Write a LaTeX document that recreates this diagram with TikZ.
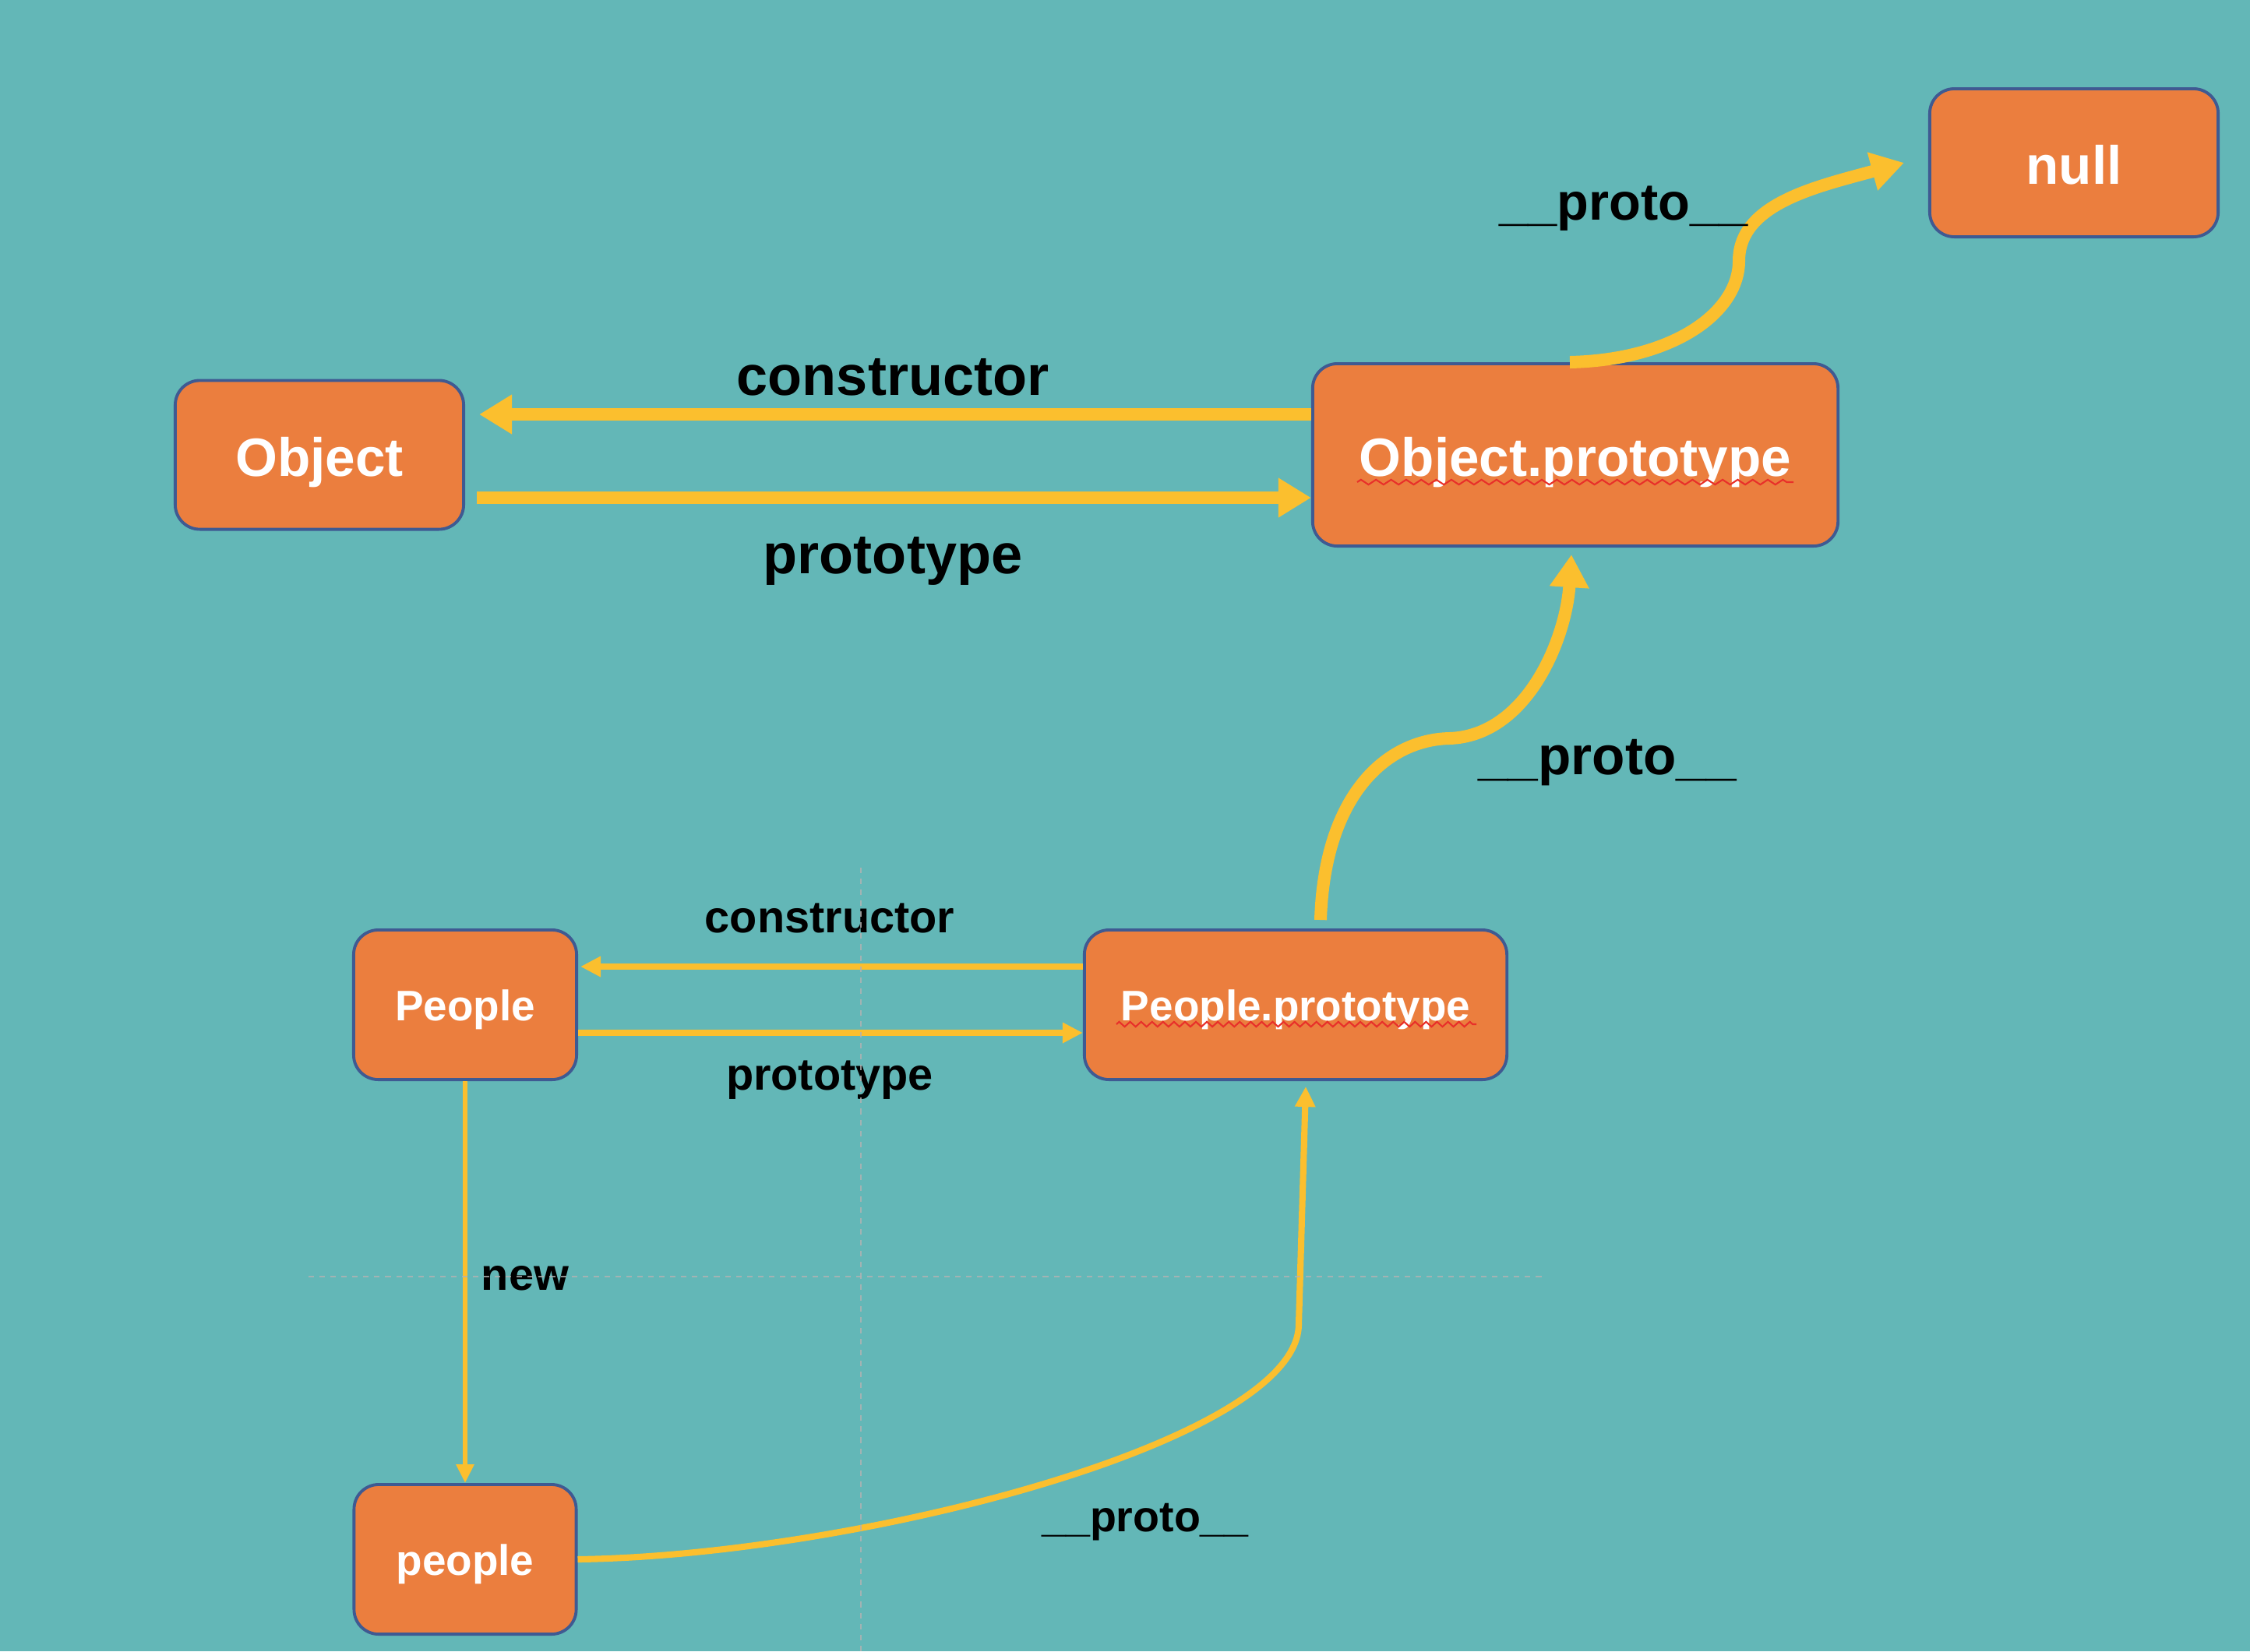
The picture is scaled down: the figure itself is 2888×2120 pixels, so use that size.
\documentclass[tikz,border=0pt]{standalone}
\usepackage{fontspec}
\setmainfont{Liberation Sans}
\usetikzlibrary{arrows.meta,calc,decorations.pathmorphing}
\definecolor{bg}{HTML}{63B7B7}
\definecolor{boxfill}{HTML}{EB7E3E}
\definecolor{boxline}{HTML}{3F5A92}
\definecolor{arr}{HTML}{FBBF2E}
\definecolor{squig}{HTML}{E8302A}
\begin{document}
\begin{tikzpicture}[x=0.01cm,y=-0.01cm,
  box/.style={draw=boxline, line width=1.1pt, fill=boxfill, rounded corners=9pt, inner sep=0pt, text=white, text depth=0pt},
  bigbox/.style={box, text height=15.4pt, font=\fontsize{19.7}{22}\selectfont\bfseries},
  smallbox/.style={box, text height=11.4pt, font=\fontsize{15.6}{18}\selectfont\bfseries},
  biglab/.style={font=\fontsize{20.5}{24}\selectfont\bfseries, text=black, inner sep=0pt},
  smalllab/.style={font=\fontsize{16.4}{19}\selectfont\bfseries, text=black, inner sep=0pt},
  thickarrow/.style={draw=arr, line width=4.55pt, -{Triangle[length=0.42cm,width=0.48cm]}},
  thinarrow/.style={draw=arr, line width=2.3pt, -{Triangle[length=0.26cm,width=0.25cm]}},
  newarrow/.style={draw=arr, line width=1.7pt, -{Triangle[length=0.24cm,width=0.22cm]}},
  squiggle/.style={draw=squig, line width=0.6pt, decorate, decoration={zigzag, segment length=#1, amplitude=0.9pt}},
  guide/.style={draw=gray!60, line width=0.7pt, dash pattern=on 2pt off 2pt, opacity=0.8}
]
\fill[bg] (0,0) rectangle (2888,2120);
\useasboundingbox (0,0) rectangle (2888,2120);

% boxes
\node[bigbox, minimum width=3.70cm, minimum height=1.91cm] (obj) at (410,584) {Object};
\node[bigbox, minimum width=6.74cm, minimum height=2.34cm] (op) at (2022,584) {Object.prototype};
\node[bigbox, minimum width=3.70cm, minimum height=1.90cm] (null) at (2662,209) {null};
\node[smallbox, minimum width=2.86cm, minimum height=1.92cm] (P) at (597,1290) {People};
\node[smallbox, minimum width=5.42cm, minimum height=1.92cm] (pp) at (1663,1290) {People.prototype};
\node[smallbox, minimum width=2.85cm, minimum height=1.92cm] (p) at (597,2002) {people};

% spell-check squiggles
\draw[squiggle=5.5pt] ($(op.center)+(-280,35)$) -- ($(op.center)+(280,35)$);
\draw[squiggle=4pt] ($(pp.center)+(-230,25)$) -- ($(pp.center)+(232,25)$);

% top row arrows
\draw[thickarrow] ($(op.west)+(0,-52)$) -- ($(obj.east)+(18,-52)$);
\draw[thickarrow] ($(obj.east)+(15,55)$) -- ($(op.west)+(0,55)$);
\node[biglab] (lc1) at (1146,484) {constructor};
\node[biglab] (lp1) at (1146,720) {prototype};

% Object.prototype -> null
\draw[thickarrow] ($(op.north)+(-7,0)$) .. controls (2150,462) and (2232,400) .. (2232,335)
   .. controls (2232,262) and (2330,240) .. ($(null.west)+(-31,0)$);
\node[biglab, font=\fontsize{19}{22}\selectfont\bfseries] (lproto1) at (2084,268) {\_\_proto\_\_};

% People.prototype -> Object.prototype
\draw[thickarrow] ($(pp.north)+(32,-11)$) .. controls (1700,1020) and (1780,950) .. (1860,948)
   .. controls (1960,945) and (2010,820) .. ($(op.south)+(-5,9)$);
\node[biglab, font=\fontsize{19.7}{22}\selectfont\bfseries] (lproto2) at (2063,979) {\_\_proto\_\_};

% People <-> People.prototype
\draw[thinarrow] ($(pp.west)+(0,-49)$) -- ($(P.east)+(3,-49)$);
\draw[thinarrow] ($(P.east)+(0,36)$) -- ($(pp.west)+(0,36)$);
\node[smalllab] (lc2) at (1065,1179) {constructor};
\node[smalllab] (lp2) at (1065,1387) {prototype};

% new
\draw[newarrow] (P.south) -- (p.north);
\node[smalllab] (lnew) at (674,1641) {new};

% people -> People.prototype
\draw[thinarrow] (p.east) .. controls (1100,1997) and (1667,1850) .. (1667,1700) -- ($(pp.south)+(13,7)$);
\node[smalllab, font=\fontsize{15.8}{18}\selectfont\bfseries] (lproto3) at (1470,1954) {\_\_proto\_\_};

% faint guide lines
\draw[guide] (1105,1114) -- (1105,2120);
\draw[guide] (396,1639) -- (1980,1639);
\end{tikzpicture}
\end{document}
